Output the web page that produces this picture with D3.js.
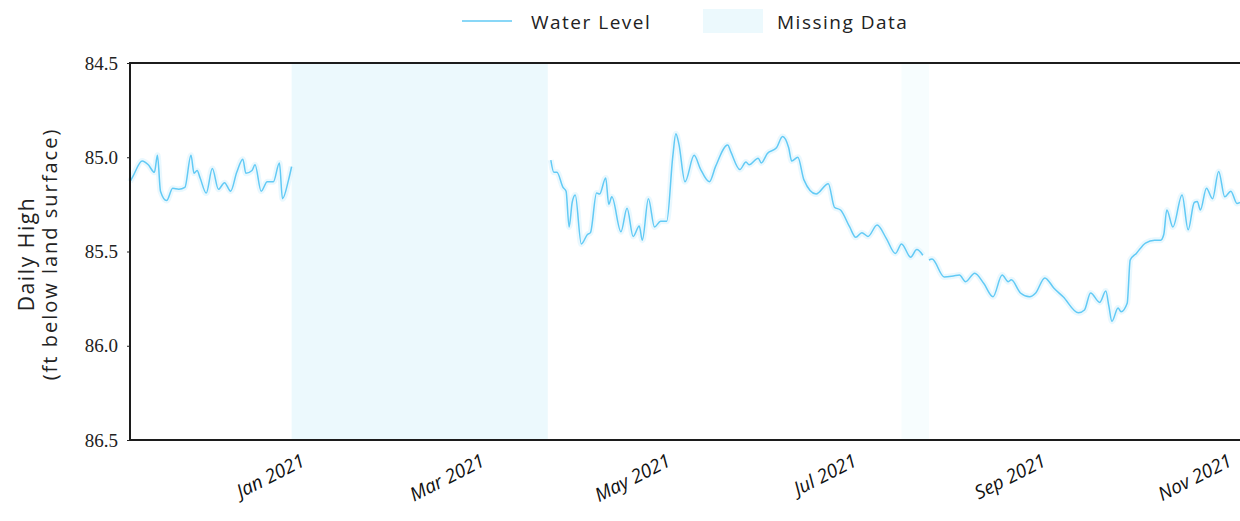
<!DOCTYPE html>
<html>
<head>
<meta charset="utf-8">
<script src="https://cdn.jsdelivr.net/npm/d3@7"></script>
<style>
  body { margin: 0; background: #fff; }
  svg { display: block; }
</style>
</head>
<body>
<svg width="1240" height="521"></svg>
<script>
// water level readings, ft below land surface (null = gap in record)
var dates = [
  "2020-11-06","2020-11-07","2020-11-10","2020-11-12","2020-11-14","2020-11-15","2020-11-16",
  "2020-11-18","2020-11-20","2020-11-22","2020-11-24","2020-11-26","2020-11-27","2020-11-28",
  "2020-11-29","2020-12-01","2020-12-03","2020-12-05","2020-12-07","2020-12-09","2020-12-11",
  "2020-12-13","2020-12-14","2020-12-16","2020-12-17","2020-12-19","2020-12-21","2020-12-23",
  "2020-12-25","2020-12-26","2020-12-28","2020-12-29",
  "2020-12-30",
  "2021-03-24","2021-03-25","2021-03-26","2021-03-28","2021-03-29","2021-03-30","2021-03-31",
  "2021-04-01","2021-04-03","2021-04-05","2021-04-06","2021-04-08","2021-04-09","2021-04-11",
  "2021-04-12","2021-04-13","2021-04-16","2021-04-18","2021-04-20","2021-04-22","2021-04-23",
  "2021-04-25","2021-04-27","2021-04-29","2021-05-01","2021-05-03","2021-05-04","2021-05-05",
  "2021-05-07","2021-05-10","2021-05-12","2021-05-15","2021-05-17","2021-05-21","2021-05-22",
  "2021-05-25","2021-05-27","2021-05-28","2021-05-31","2021-06-01","2021-06-03","2021-06-06",
  "2021-06-08","2021-06-10","2021-06-11","2021-06-13","2021-06-15","2021-06-19","2021-06-23",
  "2021-06-25","2021-06-27","2021-06-30","2021-07-02","2021-07-04","2021-07-06","2021-07-09",
  "2021-07-12","2021-07-15","2021-07-17","2021-07-20","2021-07-22","2021-07-24",
  "2021-07-25",
  "2021-07-26","2021-07-27","2021-07-31","2021-08-03","2021-08-05","2021-08-07","2021-08-10",
  "2021-08-13","2021-08-16","2021-08-19","2021-08-21","2021-08-22","2021-08-25","2021-08-28",
  "2021-08-30","2021-09-02","2021-09-05","2021-09-08","2021-09-13","2021-09-15","2021-09-17",
  "2021-09-20","2021-09-22","2021-09-23","2021-09-24","2021-09-26","2021-09-27","2021-09-29",
  "2021-09-30","2021-10-02","2021-10-05","2021-10-08","2021-10-10","2021-10-11","2021-10-12",
  "2021-10-14","2021-10-17","2021-10-19","2021-10-21","2021-10-22","2021-10-23","2021-10-25",
  "2021-10-27","2021-10-29","2021-10-31","2021-11-02","2021-11-04","2021-11-05"
];
var levels = [
  85.13, 85.10, 85.02, 85.04, 85.08, 84.99, 85.18,
  85.23, 85.165, 85.17, 85.16, 84.99, 85.085, 85.07,
  85.11, 85.19, 85.06, 85.17, 85.135, 85.18, 85.08,
  85.01, 85.085, 85.07, 85.04, 85.18, 85.13, 85.13,
  85.03, 85.22, 85.12, 85.05,
  null,
  85.015, 85.08, 85.08, 85.16, 85.18, 85.37, 85.24,
  85.20, 85.46, 85.41, 85.40, 85.19, 85.195, 85.11,
  85.25, 85.21, 85.395, 85.27, 85.42, 85.365, 85.44,
  85.22, 85.37, 85.34, 85.34, 84.995, 84.875, 84.93,
  85.13, 84.99, 85.06, 85.13, 85.05, 84.935, 84.97,
  85.065, 85.025, 85.04, 85.005, 85.03, 84.98, 84.95,
  84.89, 84.95, 85.02, 85.00, 85.12, 85.195, 85.14,
  85.265, 85.28, 85.37, 85.425, 85.40, 85.42, 85.36,
  85.43, 85.51, 85.46, 85.53, 85.49, 85.52,
  null,
  85.545, 85.54, 85.635, 85.63, 85.625, 85.66, 85.615,
  85.67, 85.74, 85.625, 85.66, 85.65, 85.72, 85.74,
  85.72, 85.64, 85.695, 85.74, 85.825, 85.81, 85.72,
  85.77, 85.71, 85.79, 85.87, 85.80, 85.82, 85.775,
  85.545, 85.51, 85.455, 85.44, 85.44, 85.41, 85.28,
  85.37, 85.20, 85.385, 85.24, 85.235, 85.28, 85.165,
  85.22, 85.075, 85.21, 85.18, 85.245, 85.24
];
var gapStarts = ["2020-12-29", "2021-07-17"];
var gapEnds = ["2021-03-23", "2021-07-26"];
var gapOpacity = [1, 0.4];
var yTicks = [84.5, 85.0, 85.5, 86.0, 86.5];
var xTicks = ["2021-01-01", "2021-03-01", "2021-05-01", "2021-07-01", "2021-09-01", "2021-11-01"];
var xDomain = ["2020-11-06", "2021-11-05"];

var parse = d3.timeParse("%Y-%m-%d");
var lineColor = "#62caf5";
var gapColor = "#ecf9fd";

var svg = d3.select("svg");
var margin = { left: 130, top: 63, right: 0, bottom: 81 };
var width = 1240 - margin.left - margin.right;
var height = 521 - margin.top - margin.bottom;

var x = d3.scaleTime()
          .domain(xDomain.map(parse))
          .range([0, width]);
var y = d3.scaleLinear()
          .domain([84.5, 86.5])
          .range([0, height]);

var g = svg.append("g")
           .attr("transform", "translate(" + margin.left + "," + margin.top + ")");

// missing data bands
g.selectAll("rect.gap")
 .data(gapStarts)
 .enter().append("rect")
 .attr("class", "gap")
 .attr("x", function(d) { return x(parse(d)); })
 .attr("y", 0)
 .attr("width", function(d, i) { return x(parse(gapEnds[i])) - x(parse(d)); })
 .attr("height", height)
 .attr("fill", gapColor)
 .attr("opacity", function(d, i) { return gapOpacity[i]; });

var pts = dates.map(function(d, i) { return { date: parse(d), v: levels[i] }; });

var line = d3.line()
             .defined(function(d) { return d.v !== null; })
             .x(function(d) { return x(d.date); })
             .y(function(d) { return y(d.v); })
             .curve(d3.curveMonotoneX);

// soft halo under the line, then the line itself
g.append("path")
 .datum(pts)
 .attr("d", line)
 .attr("fill", "none")
 .attr("stroke", "#dcf4fd")
 .attr("stroke-width", 6)
 .attr("opacity", 0.6);
g.append("path")
 .datum(pts)
 .attr("d", line)
 .attr("fill", "none")
 .attr("stroke", lineColor)
 .attr("stroke-width", 1.5)
 .attr("stroke-linejoin", "round");

// frame: left, top, bottom (right edge runs off the page)
g.append("path")
 .attr("d", "M" + (width + 5) + ",0H0V" + height + "H" + (width + 5))
 .attr("fill", "none")
 .attr("stroke", "#1c1c1c")
 .attr("stroke-width", 2);

// y axis
var yAxis = d3.axisLeft(y)
              .tickValues(yTicks)
              .tickFormat(d3.format(".1f"))
              .tickSize(3)
              .tickPadding(9);
var yg = g.append("g").call(yAxis);
yg.select(".domain").remove();
yg.selectAll("text")
  .attr("font-family", "'Liberation Serif', serif")
  .attr("font-size", 19)
  .attr("fill", "#222");
yg.selectAll("line").attr("stroke", "#222");

// x axis
var xAxis = d3.axisBottom(x)
              .tickValues(xTicks.map(parse))
              .tickFormat(d3.timeFormat("%b %Y"))
              .tickSize(0);
var xg = g.append("g")
          .attr("transform", "translate(0," + height + ")")
          .call(xAxis);
xg.select(".domain").remove();
xg.selectAll("text")
  .attr("font-family", "'Open Sans', sans-serif")
  .attr("font-style", "italic")
  .attr("font-size", 19)
  .attr("fill", "#111")
  .attr("text-anchor", "end")
  .attr("x", 0)
  .attr("y", 0)
  .attr("dy", 0)
  .attr("transform", "translate(5,25) rotate(-27)");

// y axis title
var yt = svg.append("text")
            .attr("transform", "translate(38,254) rotate(-90)")
            .attr("text-anchor", "middle")
            .attr("font-family", "'Open Sans', sans-serif")
            .attr("fill", "#222");
yt.append("tspan").attr("x", 0).attr("y", -4).attr("font-size", 21)
  .attr("letter-spacing", 1.6).text("Daily High");
yt.append("tspan").attr("x", 0).attr("y", 19).attr("font-size", 20)
  .attr("letter-spacing", 2).text("(ft below land surface)");

// legend
var leg = svg.append("g")
             .attr("font-family", "'Open Sans', sans-serif")
             .attr("font-size", 19)
             .attr("letter-spacing", 1.5)
             .attr("fill", "#222");
leg.append("line")
   .attr("x1", 462).attr("x2", 512).attr("y1", 21).attr("y2", 21)
   .attr("stroke", lineColor).attr("stroke-width", 1.5);
leg.append("text").attr("x", 531).attr("y", 29).text("Water Level");
leg.append("rect")
   .attr("x", 703).attr("y", 9).attr("width", 60).attr("height", 24)
   .attr("fill", gapColor);
leg.append("text").attr("x", 777).attr("y", 29).text("Missing Data");
</script>
</body>
</html>
